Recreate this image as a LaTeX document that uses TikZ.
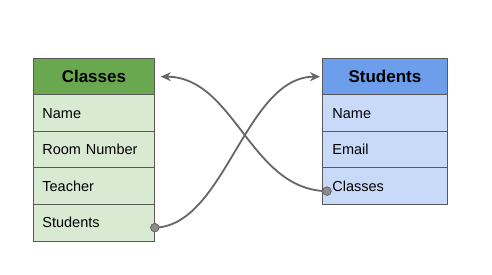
\documentclass[tikz,border=0pt]{standalone}
\usepackage{fontspec}
\setmainfont{Liberation Sans}
\usetikzlibrary{arrows.meta}
\definecolor{ghead}{HTML}{6AA84F}
\definecolor{grow}{HTML}{D9EAD3}
\definecolor{bhead}{HTML}{6D9EEB}
\definecolor{brow}{HTML}{C9DAF8}
\definecolor{edge}{HTML}{595959}
\definecolor{wire}{HTML}{666666}
\tikzset{
  cell/.style={draw=edge, line width=0.8pt, minimum height=36.5pt, anchor=north west,
    inner sep=0pt, font=\fontsize{14.5}{16}\selectfont, text=black},
  ghd/.style={cell, fill=ghead, minimum width=121pt, font=\fontsize{17}{19}\selectfont\bfseries},
  gcl/.style={cell, fill=grow, minimum width=121pt, text width=103pt, align=left},
  bhd/.style={cell, fill=bhead, minimum width=125pt, font=\fontsize{17}{19}\selectfont\bfseries},
  bcl/.style={cell, fill=brow, minimum width=125pt, text width=105pt, align=left},
  link/.style={draw=wire, line width=1.8pt, -{Stealth[length=10pt,width=9pt]}},
  dot/.style={circle, fill=wire!75, draw=wire, line width=0.6pt, minimum size=8.5pt, inner sep=0pt}
}
\begin{document}
\begin{tikzpicture}[x=1pt,y=-1pt]
\useasboundingbox (0,0) rectangle (492,275);
% Classes table
\node[ghd] (ch) at (33,58) {Classes};
\node[gcl] (c1) at (33,94.5) {Name};
\node[gcl] (c2) at (33,131) {Room Number};
\node[gcl] (c3) at (33,167.5) {Teacher};
\node[gcl] (c4) at (33,204) {Students};
% Students table
\node[bhd] (sh) at (322,58) {Students};
\node[bcl] (s1) at (322,94.5) {Name};
\node[bcl] (s2) at (322,131) {Email};
\node[bcl] (s3) at (322,167.5) {Classes};
% anchors
\coordinate (ca) at ([xshift=6pt]ch.east);
\coordinate (sa) at ([xshift=-2pt]sh.west);
\node[dot] (cd) at ([yshift=-5pt]c4.east) {};
\node[dot] (sd) at ([xshift=5pt,yshift=-5pt]s3.west) {};
% connectors
\draw[link] (cd.center) .. controls (225,226) and (245,77) .. (sa);
\draw[link] (sd.center) .. controls (250,190) and (235,77) .. (ca);
\node[dot] at (cd) {};
\node[dot] at (sd) {};
\end{tikzpicture}
\end{document}
